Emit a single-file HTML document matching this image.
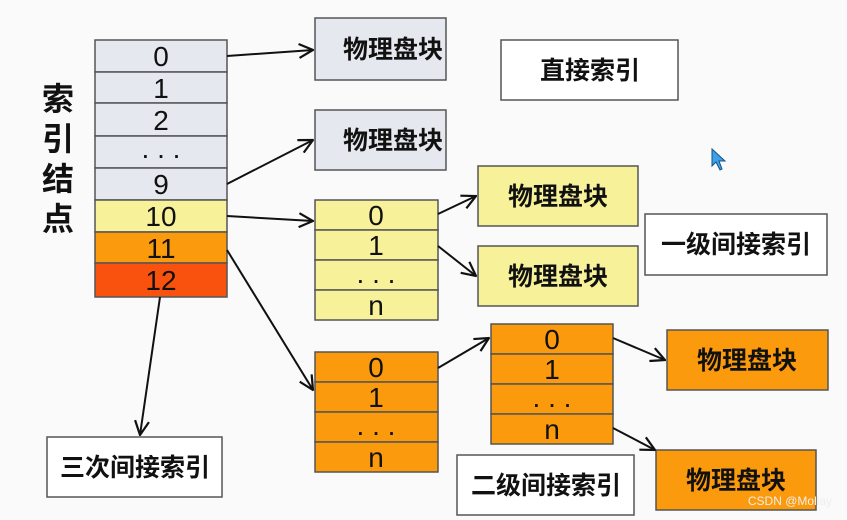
<!DOCTYPE html>
<html><head><meta charset="utf-8"><style>
html,body{margin:0;padding:0;background:#fafafa;}
svg{display:block;}
text{font-family:"Liberation Sans","Noto Sans CJK SC",sans-serif;fill:#111;}
.cn{font-family:"Noto Sans CJK SC","WenQuanYi Zen Hei",sans-serif;font-weight:bold;}
</style></head><body>
<svg width="847" height="520" viewBox="0 0 847 520" xmlns="http://www.w3.org/2000/svg">
<defs>
<marker id="a" viewBox="0 0 16 16" refX="15" refY="8" markerWidth="16" markerHeight="16" markerUnits="userSpaceOnUse" orient="auto">
<path d="M1 1 L15 8 L1 15" fill="none" stroke="#111" stroke-width="2.2"/>
</marker>
</defs>
<rect width="847" height="520" fill="#fafafa"/>
<g stroke="#555" stroke-width="1.5">
<rect x="95" y="40" width="132" height="32" fill="#e6e8ef"/>
<rect x="95" y="72" width="132" height="31" fill="#e6e8ef"/>
<rect x="95" y="103" width="132" height="33" fill="#e6e8ef"/>
<rect x="95" y="136" width="132" height="32" fill="#e6e8ef"/>
<rect x="95" y="168" width="132" height="32" fill="#e6e8ef"/>
<rect x="95" y="200" width="132" height="32" fill="#f7f29a"/>
<rect x="95" y="232" width="132" height="31" fill="#fb9a0c"/>
<rect x="95" y="263" width="132" height="34" fill="#f8520e"/>
<rect x="315" y="18" width="131" height="62" fill="#e6e8ef"/>
<rect x="315" y="110" width="131" height="60" fill="#e6e8ef"/>
<rect x="315" y="200" width="123" height="30" fill="#f7f29a"/>
<rect x="315" y="230" width="123" height="30" fill="#f7f29a"/>
<rect x="315" y="260" width="123" height="30" fill="#f7f29a"/>
<rect x="315" y="290" width="123" height="30" fill="#f7f29a"/>
<rect x="478" y="166" width="160" height="60" fill="#f7f29a"/>
<rect x="478" y="246" width="160" height="60" fill="#f7f29a"/>
<rect x="315" y="352" width="123" height="30" fill="#fb9a0c"/>
<rect x="315" y="382" width="123" height="30" fill="#fb9a0c"/>
<rect x="315" y="412" width="123" height="30" fill="#fb9a0c"/>
<rect x="315" y="442" width="123" height="30" fill="#fb9a0c"/>
<rect x="491" y="324" width="122" height="30" fill="#fb9a0c"/>
<rect x="491" y="354" width="122" height="30" fill="#fb9a0c"/>
<rect x="491" y="384" width="122" height="30" fill="#fb9a0c"/>
<rect x="491" y="414" width="122" height="30" fill="#fb9a0c"/>
<rect x="667" y="330" width="161" height="60" fill="#fb9a0c"/>
<rect x="656" y="450" width="160" height="60" fill="#fb9a0c"/>
<rect x="501" y="40" width="177" height="60" fill="#fff"/>
<rect x="645" y="214" width="182" height="61" fill="#fff"/>
<rect x="457" y="455" width="177" height="60" fill="#fff"/>
<rect x="47" y="437" width="175" height="60" fill="#fff"/>
</g>
<g font-size="28" text-anchor="middle">
<text x="161" y="66">0</text><text x="161" y="98">1</text><text x="161" y="130">2</text>
<text x="161" y="158">. . .</text><text x="161" y="194">9</text><text x="161" y="226">10</text>
<text x="161" y="258">11</text><text x="161" y="290">12</text>
<text x="376" y="225">0</text><text x="376" y="255">1</text><text x="376" y="283">. . .</text><text x="376" y="315">n</text>
<text x="376" y="377">0</text><text x="376" y="407">1</text><text x="376" y="435" fill="#7a1a00">. . .</text><text x="376" y="467">n</text>
<text x="552" y="349">0</text><text x="552" y="379">1</text><text x="552" y="407">. . .</text><text x="552" y="439">n</text>
</g>
<g class="cn" font-size="25" text-anchor="middle">
<text x="393" y="58">物理盘块</text>
<text x="393" y="149">物理盘块</text>
<text x="558" y="205">物理盘块</text>
<text x="558" y="285">物理盘块</text>
<text x="747" y="369">物理盘块</text>
<text x="736" y="489">物理盘块</text>
<text x="590" y="79">直接索引</text>
<text x="736" y="253">一级间接索引</text>
<text x="546" y="494">二级间接索引</text>
<text x="135" y="476">三次间接索引</text>
<text x="58" y="110" font-size="32">索</text>
<text x="58" y="150" font-size="32">引</text>
<text x="58" y="190" font-size="32">结</text>
<text x="58" y="230" font-size="32">点</text>
</g>
<g stroke="#111" stroke-width="2" fill="none" marker-end="url(#a)">
<line x1="227" y1="56" x2="313" y2="50"/>
<line x1="227" y1="184" x2="313" y2="140"/>
<line x1="227" y1="216" x2="313" y2="221"/>
<line x1="227" y1="250" x2="313" y2="390"/>
<line x1="160" y1="297" x2="140" y2="435"/>
<line x1="438" y1="214" x2="476" y2="196"/>
<line x1="438" y1="246" x2="476" y2="276"/>
<line x1="438" y1="368" x2="489" y2="338"/>
<line x1="613" y1="338" x2="665" y2="360"/>
<line x1="613" y1="428" x2="655" y2="450"/>
</g>
<path d="M712 149 L712 166 L716 162 L720 170 L722 169 L719 161 L725 161 Z" fill="#3aa0e8" stroke="#1a4f80" stroke-width="1"/>
<text x="790" y="505" font-size="12" text-anchor="middle" style="fill:#eee">CSDN @Moliay</text>
</svg>
</body></html>
